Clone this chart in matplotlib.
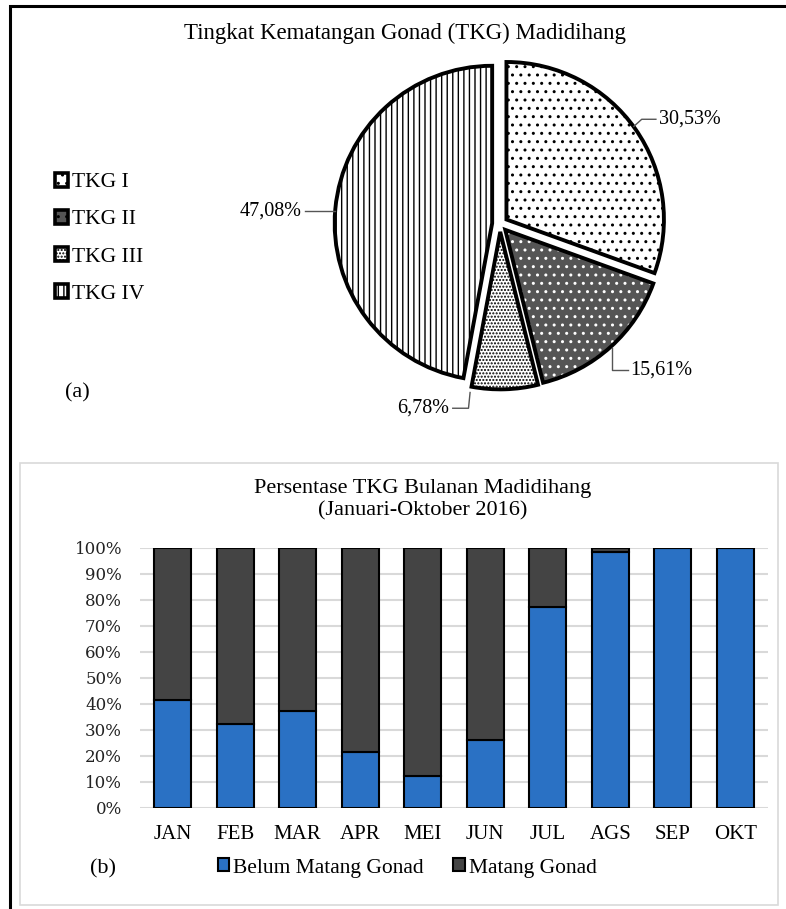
import numpy as np
import matplotlib
matplotlib.use('Agg')
import matplotlib.pyplot as plt
from matplotlib.patches import Rectangle, Patch

plt.rcParams['font.family'] = ['Liberation Serif', 'DejaVu Serif']
plt.rcParams['hatch.linewidth'] = 1.0

# ---- 数据 ----
tkg_labels = ['TKG I', 'TKG II', 'TKG III', 'TKG IV']
tkg_values = [30.53, 15.61, 6.78, 47.08]
tkg_text = ['30,53%', '15,61%', '6,78%', '47,08%']

months = ['JAN', 'FEB', 'MAR', 'APR', 'MEI', 'JUN', 'JUL', 'AGS', 'SEP', 'OKT']
belum_matang = [41.5, 32.3, 37.3, 21.7, 12.3, 26.2, 77.4, 98.5, 100.0, 100.0]
matang = [58.5, 67.7, 62.7, 78.3, 87.7, 73.8, 22.6, 1.5, 0.0, 0.0]
series_names = ['Belum Matang Gonad', 'Matang Gonad']

W, H = 786, 909


def fx(px):
    return px / W


def fy(py):
    return 1 - py / H


fig = plt.figure(figsize=(W / 100, H / 100), dpi=100)

# 外框 + 下方面板框
fig.add_artist(Rectangle((fx(9.5), fy(980)), 820 / W, (980 - 6) / H,
                         transform=fig.transFigure, fill=False,
                         edgecolor='black', linewidth=2.2))
fig.add_artist(Rectangle((fx(20), fy(905)), 758 / W, 442 / H,
                         transform=fig.transFigure, fill=False,
                         edgecolor='#d9d9d9', linewidth=1.2))

# ---- (a) 饼图 ----
ax_pie = fig.add_axes([fx(300), fy(424), 400 / W, 400 / H])
face = ['white', '#555555', 'white', 'white']
hatch_col = ['black', 'white', 'black', 'black']
hatches = ['..', '..', '.....', '|||']
explode = [0.05] * 4

wedges, _ = ax_pie.pie(tkg_values, startangle=90, counterclock=False,
                       explode=explode, colors=face, hatch=hatches,
                       wedgeprops=dict(linewidth=0))
for w, hc in zip(wedges, hatch_col):
    w.set_edgecolor(hc)
ax_pie.pie(tkg_values, startangle=90, counterclock=False, explode=explode,
           colors=['none'] * 4,
           wedgeprops=dict(edgecolor='black', linewidth=2.8))
ax_pie.set_xlim(-1.27, 1.27)
ax_pie.set_ylim(-1.27, 1.27)
ax_pie.axis('off')

# 百分比标签与引线
label_pos = [(1.01, 0.665, 'left'), (0.83, -0.93, 'left'),
             (-0.32, -1.17, 'right'), (-1.26, 0.083, 'right')]
leaders = [[(0.85, 0.62), (0.90, 0.665), (0.99, 0.665)],
           [(0.713, -0.79), (0.713, -0.93), (0.81, -0.93)],
           [(-0.19, -1.07), (-0.20, -1.17), (-0.30, -1.17)],
           [(-1.05, 0.083), (-1.10, 0.083), (-1.24, 0.083)]]
for (tx, ty, ha), txt, line in zip(label_pos, tkg_text, leaders):
    lx, ly = zip(*line)
    ax_pie.plot(lx, ly, color='#555555', linewidth=1.0, clip_on=False)
    ax_pie.text(tx, ty, txt, ha=ha, va='center', fontsize=14.5, clip_on=False)

pie_handles = [Patch(facecolor=f, edgecolor='black', hatch=h, linewidth=2.6)
               for f, h in zip(face, hatches)]
fig.legend(pie_handles, tkg_labels, loc='upper left',
           bbox_to_anchor=(fx(46), fy(164)), frameon=False, fontsize=15.5,
           handlelength=0.62, handleheight=0.62, handletextpad=0.2,
           labelspacing=0.82, borderaxespad=0)

fig.text(fx(405), fy(33), 'Tingkat Kematangan Gonad (TKG) Madidihang',
         ha='center', va='center', fontsize=16.5)
fig.text(fx(77), fy(393), '(a)', ha='center', va='center', fontsize=16)

# ---- (b) 堆积柱状图 ----
blue = '#2a71c4'
dark = '#444444'
ax_bar = fig.add_axes([fx(140), fy(808), 628 / W, 260 / H])
x = np.arange(len(months))
ax_bar.bar(x, belum_matang, width=0.59, color=blue, edgecolor='black',
           linewidth=1.5, zorder=3)
ax_bar.bar(x, matang, width=0.59, bottom=belum_matang, color=dark,
           edgecolor='black', linewidth=1.5, zorder=3)
ax_bar.set_xlim(-0.52, len(months) - 0.48)
ax_bar.set_ylim(0, 100)
ax_bar.set_yticks(np.arange(0, 101, 10))
ax_bar.set_yticklabels([f'{v}%' for v in range(0, 101, 10)],
                       family='DejaVu Serif', fontsize=12, color='#222222')
ax_bar.set_xticks(x)
ax_bar.set_xticklabels(months, fontsize=15)
ax_bar.yaxis.grid(True, color='#d9d9d9', linewidth=1.5)
ax_bar.set_axisbelow(True)
for s in ax_bar.spines.values():
    s.set_visible(False)
ax_bar.tick_params(axis='y', length=0, pad=13)
ax_bar.tick_params(axis='x', length=0, pad=12)

fig.text(fx(423), fy(489), 'Persentase TKG Bulanan Madidihang',
         ha='center', va='center', fontsize=16)
fig.text(fx(423), fy(511), '(Januari-Oktober 2016)',
         ha='center', va='center', fontsize=16)

bar_handles = [Patch(facecolor=blue, edgecolor='black', linewidth=1.5),
               Patch(facecolor=dark, edgecolor='black', linewidth=1.5)]
fig.legend(bar_handles, series_names, loc='center',
           bbox_to_anchor=(fx(407), fy(868)), ncol=2, frameon=False,
           fontsize=15.5, handlelength=0.55, handleheight=0.55,
           handletextpad=0.15, columnspacing=1.4)
fig.text(fx(103), fy(869), '(b)', ha='center', va='center', fontsize=16)

fig.savefig('out.png', dpi=100)
